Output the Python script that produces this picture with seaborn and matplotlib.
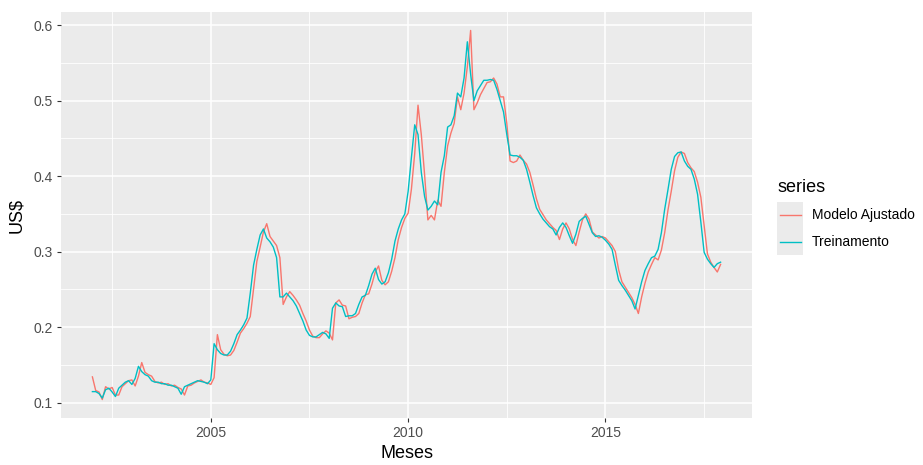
import numpy as np
import pandas as pd
import matplotlib
matplotlib.use("Agg")
import matplotlib.pyplot as plt
from matplotlib.ticker import MultipleLocator
from matplotlib.patches import Rectangle
from matplotlib.lines import Line2D
import seaborn as sns

plt.rcParams["font.family"] = ["Liberation Sans", "DejaVu Sans"]

# Monthly series, Jan/2002 .. Dec/2017 (US$)
start_year = 2002
series_names = ["Modelo Ajustado", "Treinamento"]
series_colors = ["#F8766D", "#00BFC4"]

treinamento = [
    0.1145, 0.1145, 0.112, 0.106, 0.117, 0.119, 0.114, 0.108, 0.119, 0.123, 0.127, 0.129,
    0.124, 0.132, 0.148, 0.141, 0.137, 0.135, 0.129, 0.127, 0.127, 0.125, 0.125, 0.123,
    0.123, 0.121, 0.119, 0.111, 0.121, 0.123, 0.125, 0.127, 0.129, 0.128, 0.127, 0.125,
    0.130, 0.178, 0.170, 0.165, 0.163, 0.163, 0.168, 0.178, 0.190, 0.196, 0.203, 0.212,
    0.245, 0.282, 0.303, 0.322, 0.330, 0.318, 0.313, 0.306, 0.292, 0.240, 0.240, 0.245,
    0.240, 0.235, 0.228, 0.218, 0.208, 0.196, 0.189, 0.187, 0.187, 0.190, 0.193, 0.191,
    0.185, 0.225, 0.232, 0.228, 0.227, 0.214, 0.215, 0.215, 0.218, 0.230, 0.240, 0.242,
    0.255, 0.270, 0.278, 0.263, 0.257, 0.260, 0.272, 0.290, 0.314, 0.330, 0.342, 0.350,
    0.380, 0.425, 0.468, 0.455, 0.405, 0.373, 0.355, 0.360, 0.367, 0.362, 0.405, 0.427,
    0.465, 0.468, 0.480, 0.510, 0.505, 0.530, 0.578, 0.535, 0.500, 0.513, 0.520, 0.527,
    0.527, 0.528, 0.527, 0.515, 0.500, 0.485, 0.455, 0.428, 0.427, 0.427, 0.425, 0.421,
    0.409, 0.392, 0.374, 0.358, 0.350, 0.343, 0.338, 0.333, 0.330, 0.322, 0.332, 0.338,
    0.332, 0.321, 0.311, 0.323, 0.340, 0.344, 0.347, 0.336, 0.325, 0.320, 0.321, 0.319,
    0.315, 0.310, 0.303, 0.282, 0.262, 0.255, 0.249, 0.242, 0.235, 0.224, 0.242, 0.260,
    0.275, 0.284, 0.292, 0.294, 0.303, 0.325, 0.356, 0.382, 0.409, 0.426, 0.431, 0.432,
    0.420, 0.413, 0.409, 0.396, 0.376, 0.339, 0.299, 0.290, 0.284, 0.279, 0.284, 0.286,
]

modelo_ajustado = [
    0.134, 0.116, 0.114, 0.104, 0.121, 0.118, 0.120, 0.110, 0.110, 0.121, 0.125, 0.129,
    0.130, 0.122, 0.135, 0.153, 0.140, 0.137, 0.135, 0.128, 0.126, 0.127, 0.124, 0.125,
    0.122, 0.123, 0.120, 0.118, 0.110, 0.122, 0.123, 0.126, 0.128, 0.130, 0.127, 0.126,
    0.124, 0.133, 0.190, 0.170, 0.164, 0.162, 0.163, 0.169, 0.180, 0.192, 0.198, 0.205,
    0.214, 0.250, 0.287, 0.306, 0.326, 0.337, 0.320, 0.314, 0.308, 0.292, 0.230, 0.240,
    0.247, 0.242, 0.236, 0.229, 0.218, 0.208, 0.196, 0.188, 0.186, 0.186, 0.191, 0.195,
    0.192, 0.183, 0.232, 0.236, 0.229, 0.228, 0.211, 0.213, 0.214, 0.218, 0.232, 0.243,
    0.244, 0.257, 0.273, 0.281, 0.262, 0.256, 0.260, 0.274, 0.292, 0.316, 0.332, 0.344,
    0.351, 0.383, 0.430, 0.494, 0.455, 0.402, 0.342, 0.348, 0.342, 0.368, 0.360, 0.405,
    0.440, 0.457, 0.470, 0.505, 0.488, 0.510, 0.545, 0.593, 0.488, 0.497, 0.508, 0.516,
    0.524, 0.525, 0.530, 0.522, 0.505, 0.505, 0.470, 0.420, 0.418, 0.420, 0.428, 0.421,
    0.416, 0.405, 0.388, 0.370, 0.356, 0.349, 0.342, 0.337, 0.332, 0.328, 0.316, 0.330,
    0.338, 0.330, 0.316, 0.308, 0.326, 0.342, 0.350, 0.343, 0.326, 0.322, 0.318, 0.320,
    0.318, 0.313, 0.308, 0.300, 0.276, 0.260, 0.253, 0.246, 0.239, 0.230, 0.218, 0.240,
    0.258, 0.273, 0.283, 0.292, 0.289, 0.302, 0.325, 0.355, 0.380, 0.407, 0.425, 0.432,
    0.430, 0.418, 0.411, 0.406, 0.392, 0.372, 0.335, 0.297, 0.286, 0.279, 0.273, 0.283,
]

x_ticks = [2005, 2010, 2015]
y_ticks = [0.1, 0.2, 0.3, 0.4, 0.5, 0.6]

n = len(treinamento)
meses = start_year + np.arange(n) / 12.0
df = pd.concat([
    pd.DataFrame({"Meses": meses, "US$": modelo_ajustado, "series": series_names[0]}),
    pd.DataFrame({"Meses": meses, "US$": treinamento, "series": series_names[1]}),
], ignore_index=True)

W, H = 923, 465
fig = plt.figure(figsize=(W / 100, H / 100), dpi=100)
fig.patch.set_facecolor("white")
L, R, T, B = 61, 752, 12, 418
ax = fig.add_axes([L / W, 1 - B / H, (R - L) / W, (B - T) / H])
ax.set_facecolor("#EBEBEB")

palette = dict(zip(series_names, series_colors))
sns.lineplot(data=df, x="Meses", y="US$", hue="series", hue_order=series_names,
             palette=palette, estimator=None, linewidth=1.0, legend=False, ax=ax)

# ggplot-like 5% expansion of the data range
xmin, xmax = meses.min(), meses.max()
allv = np.array(treinamento + modelo_ajustado)
ymin, ymax = allv.min(), allv.max()
ax.set_xlim(xmin - 0.05 * (xmax - xmin), xmax + 0.05 * (xmax - xmin))
ax.set_ylim(ymin - 0.05 * (ymax - ymin), ymax + 0.05 * (ymax - ymin))

ax.set_xticks(x_ticks)
ax.set_yticks(y_ticks)
ax.set_yticklabels([f"{v:.1f}" for v in y_ticks])
ax.xaxis.set_minor_locator(MultipleLocator(2.5))
ax.yaxis.set_minor_locator(MultipleLocator(0.05))
ax.set_axisbelow(True)
ax.grid(which="major", color="white", linewidth=1.1)
ax.grid(which="minor", color="white", linewidth=0.6)
for s in ax.spines.values():
    s.set_visible(False)
ax.tick_params(which="major", length=3, width=0.8, color="#333333",
               labelcolor="#4D4D4D", labelsize=10, pad=3)
ax.tick_params(which="minor", length=0)

ax.set_xlabel("Meses", fontsize=13, color="black", labelpad=3)
ax.set_ylabel("US$", fontsize=13, color="black", labelpad=6)

# Legend drawn in figure pixels
def fx(px):
    return px / W

def fy(py):
    return 1 - py / H

fig.text(fx(777), fy(187), "series", fontsize=13, color="black", va="center", ha="left")
key_left, key_w, key_h, key_top = 777, 26, 26.5, 202
for i, (name, col) in enumerate(zip(series_names, series_colors)):
    top = key_top + i * key_h
    fig.patches.append(Rectangle((fx(key_left), fy(top + key_h)), key_w / W, key_h / H,
                                 transform=fig.transFigure, facecolor="#EBEBEB",
                                 edgecolor="none"))
    yc = top + key_h / 2
    fig.lines.append(Line2D([fx(key_left + 2.5), fx(key_left + key_w - 2.5)], [fy(yc), fy(yc)],
                            transform=fig.transFigure, color=col, linewidth=1.0))
    fig.text(fx(812), fy(yc), name, fontsize=10, color="black", va="center", ha="left")

fig.savefig("out.png", dpi=100)
